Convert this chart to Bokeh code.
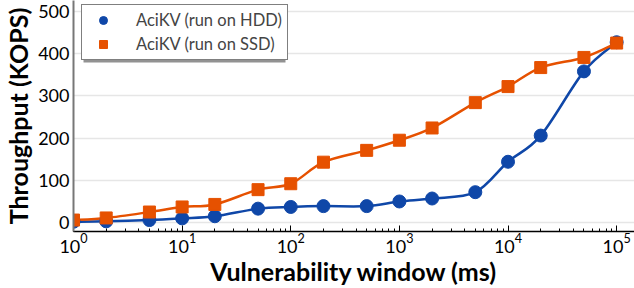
import numpy as np
from bokeh.plotting import figure
from bokeh.models import Range1d, Legend, LegendItem, FixedTicker, BoxAnnotation
from bokeh.embed import file_html
from bokeh.resources import INLINE

windows_ms = [1, 2, 5, 10, 20, 50, 100, 200, 500, 1000, 2000, 5000, 10000, 20000, 50000, 100000]
hdd_kops = [2, 3, 6, 10, 15, 33, 37, 39, 39, 50, 57, 72, 144, 206, 358, 427]
ssd_kops = [6, 11, 25, 37, 43, 78, 92, 143, 171, 195, 224, 284, 322, 367, 391, 425]
y_ticks = [0, 100, 200, 300, 400, 500]

BLUE = "#0f47a8"
ORANGE = "#e65100"
FONT = "Lato"

p = figure(width=634, height=288, x_axis_type="log", output_backend="svg",
           toolbar_location=None, min_border_left=71, min_border_right=0,
           min_border_top=0, min_border_bottom=55)
p.x_range = Range1d(1, 1.46e5)
p.y_range = Range1d(-21.1, 525.8)


def smooth(xs, ys):
    u = np.log10(np.array(xs, dtype=float))
    v = np.array(ys, dtype=float)
    n = len(u)
    out = {k: [] for k in ("x0", "y0", "x1", "y1", "cx0", "cy0", "cx1", "cy1")}
    for i in range(n - 1):
        pu = u[i - 1] if i > 0 else u[i]
        pv = v[i - 1] if i > 0 else v[i]
        nu = u[i + 2] if i + 2 < n else u[i + 1]
        nv = v[i + 2] if i + 2 < n else v[i + 1]
        out["x0"].append(10 ** u[i]); out["y0"].append(v[i])
        out["x1"].append(10 ** u[i + 1]); out["y1"].append(v[i + 1])
        out["cx0"].append(10 ** (u[i] + (u[i + 1] - pu) / 6))
        out["cy0"].append(v[i] + (v[i + 1] - pv) / 6)
        out["cx1"].append(10 ** (u[i + 1] - (nu - u[i]) / 6))
        out["cy1"].append(v[i + 1] - (nv - v[i]) / 6)
    return out


for ys, col in [(hdd_kops, BLUE), (ssd_kops, ORANGE)]:
    p.bezier(line_color=col, line_width=2.5, **smooth(windows_ms, ys))

r_hdd = p.scatter(windows_ms, hdd_kops, marker="circle", size=13, color=BLUE)
r_ssd = p.scatter(windows_ms, ssd_kops, marker="square", size=12, color=ORANGE)

shadow = BoxAnnotation(left=10, right=212, top=221, bottom=169,
                       left_units="screen", right_units="screen",
                       top_units="screen", bottom_units="screen",
                       fill_color="#777777", fill_alpha=0.8, line_color=None)
p.add_layout(shadow)

legend = Legend(items=[LegendItem(label="AciKV (run on HDD)", renderers=[r_hdd]),
                       LegendItem(label="AciKV (run on SSD)", renderers=[r_ssd])])
legend.margin = 0
legend.padding = 5
legend.spacing = 4
legend.label_height = 20
legend.glyph_height = 20
legend.glyph_width = 32
legend.label_standoff = 17
legend.label_text_font = FONT
legend.label_text_font_size = "16.5px"
legend.border_line_color = "black"
legend.border_line_width = 1.2
legend.background_fill_alpha = 1
legend.location = (8, 171)
p.add_layout(legend)

p.outline_line_color = None
p.xgrid.grid_line_color = None
p.ygrid.grid_line_color = "#e6e6e6"
p.ygrid.grid_line_width = 1.5
p.yaxis.ticker = FixedTicker(ticks=y_ticks)

p.xaxis.axis_label = "Vulnerability window (ms)"
p.yaxis.axis_label = "Throughput (KOPS)"
for ax in (p.xaxis[0], p.yaxis[0]):
    ax.axis_label_text_font = FONT
    ax.axis_label_text_font_style = "bold"
    ax.axis_label_text_font_size = "25px"
    ax.axis_label_text_line_height = 0.85
    ax.major_label_text_font = FONT
    ax.major_label_text_font_size = "18px"
    ax.major_label_text_line_height = 1.0
    ax.major_label_text_color = "black"
    ax.axis_label_text_color = "black"

p.yaxis.axis_line_color = "#777777"
p.yaxis.axis_line_width = 2
p.yaxis.major_tick_line_color = None
p.yaxis.minor_tick_line_color = None
p.yaxis.major_tick_out = 0
p.yaxis.major_tick_in = 0
p.yaxis.minor_tick_out = 0
p.yaxis.axis_label_standoff = 2
p.yaxis.major_label_standoff = 4

p.xaxis.axis_line_color = "black"
p.xaxis.axis_line_width = 1.5
p.xaxis.major_tick_in = 6
p.xaxis.major_tick_out = 0
p.xaxis.minor_tick_in = 3
p.xaxis.minor_tick_out = 0
p.xaxis.major_tick_line_color = "black"
p.xaxis.minor_tick_line_color = "black"
p.xaxis.axis_label_standoff = 0
p.xaxis.major_label_standoff = 2

open("out.html", "w").write(file_html(p, INLINE))
